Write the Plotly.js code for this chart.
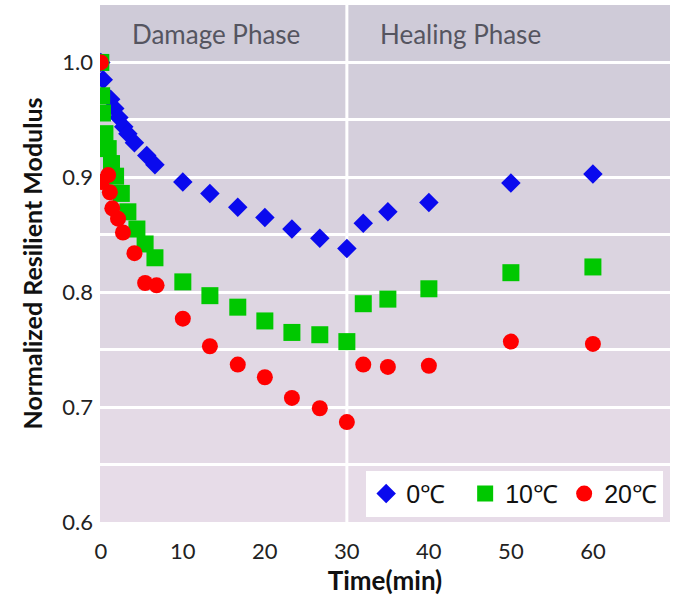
<!DOCTYPE html>
<html>
<head>
<meta charset="utf-8">
<script src="https://cdn.plot.ly/plotly-3.0.1.min.js"></script>
<style>html,body{margin:0;padding:0;background:#fff;}#chart{width:673px;height:598px;}</style>
</head>
<body>
<div id="chart"></div>
<script>
// Data
const seriesNames = ["0℃", "10℃", "20℃"];
const time0 = [0, 0.3, 1.2, 1.7, 2.2, 2.8, 3.3, 4.1, 5.6, 6.6, 10, 13.3, 16.7, 20, 23.3, 26.7, 30, 32, 35, 40, 50, 60];
const mod0 = [1.0, 0.985, 0.968, 0.960, 0.952, 0.944, 0.938, 0.930, 0.919, 0.911, 0.896, 0.886, 0.874, 0.865, 0.855, 0.847, 0.838, 0.860, 0.870, 0.878, 0.895, 0.903];
const time10 = [0, 0.1, 0.2, 0.5, 0.9, 1.3, 1.8, 2.5, 3.3, 4.4, 5.4, 6.6, 10, 13.3, 16.7, 20, 23.3, 26.7, 30, 32, 35, 40, 50, 60];
const mod10 = [1.0, 0.971, 0.956, 0.938, 0.925, 0.912, 0.901, 0.886, 0.870, 0.855, 0.842, 0.830, 0.809, 0.797, 0.787, 0.775, 0.765, 0.763, 0.757, 0.790, 0.794, 0.803, 0.817, 0.822];
const time20 = [0, 0.1, 0.9, 1.1, 1.4, 2.1, 2.7, 4.1, 5.4, 6.8, 10, 13.3, 16.7, 20, 23.3, 26.7, 30, 32, 35, 40, 50, 60];
const mod20 = [1.0, 0.896, 0.902, 0.887, 0.873, 0.864, 0.852, 0.834, 0.808, 0.806, 0.777, 0.753, 0.737, 0.726, 0.708, 0.699, 0.687, 0.737, 0.735, 0.736, 0.757, 0.755];
const phaseLabels = ["Damage Phase", "Healing Phase"];
const phaseLabelX = [14, 43.8];
const phaseBoundary = 30;
const xTicks = [0, 10, 20, 30, 40, 50, 60];

const font = "Lato, 'Open Sans', sans-serif";

// background bands between the 0.05 gridlines (top grey-lavender to bottom pinkish)
const bandColors = ["#cfcbd8","#d2cdda","#d5cfdc","#d8d1de","#dbd4e0","#ded6e2","#e1d8e4","#e4dae6","#e7dce8"];
const bandEdges = [1.05, 1.0, 0.95, 0.9, 0.85, 0.8, 0.75, 0.7, 0.65, 0.6];
const shapes = [];
for (let i = 0; i < bandColors.length; i++) {
  shapes.push({type: "rect", xref: "paper", yref: "y", x0: 0, x1: 1, y0: bandEdges[i + 1], y1: bandEdges[i],
    fillcolor: bandColors[i], line: {width: 0}, layer: "below"});
}
shapes.push({type: "line", xref: "x", yref: "paper", x0: phaseBoundary, x1: phaseBoundary, y0: 0, y1: 1,
  line: {color: "#ffffff", width: 3}, layer: "below"});

const traces = [
  {x: time0, y: mod0, name: seriesNames[0], type: "scatter", mode: "markers",
   marker: {symbol: "diamond", size: 15, color: "#0a0aee"}},
  {x: time10, y: mod10, name: seriesNames[1], type: "scatter", mode: "markers",
   marker: {symbol: "square", size: 17, color: "#00c800"}},
  {x: time20, y: mod20, name: seriesNames[2], type: "scatter", mode: "markers",
   marker: {symbol: "circle", size: 16, color: "#ff0000"}}
];

const layout = {
  width: 673, height: 598,
  margin: {l: 100, r: 3, t: 5, b: 76},
  paper_bgcolor: "#ffffff",
  plot_bgcolor: "#dcd5e0",
  showlegend: true,
  legend: {orientation: "h", x: 0.988, xanchor: "right", y: 0.01, yanchor: "bottom",
    bgcolor: "#ffffff", font: {family: "'Liberation Sans', Arial, sans-serif", size: 25, color: "#111"}, itemwidth: 30,
    entrywidth: 54, entrywidthmode: "pixels", borderwidth: 0},
  xaxis: {range: [-0.1, 69.4], tickvals: xTicks, ticktext: xTicks.map(String),
    showgrid: false, zeroline: false, showline: false, ticks: "", ticklabelstandoff: 14,
    tickfont: {family: font, size: 22, color: "#222"},
    title: {text: "Time(min)", font: {family: font, size: 26, color: "#111", weight: "bold"}, standoff: 4}},
  yaxis: {range: [0.6, 1.05], dtick: 0.1, tick0: 0.6, tickformat: ".1f",
    showgrid: true, gridcolor: "#ffffff", gridwidth: 3, zeroline: false, showline: false,
    ticks: "", ticklabelstandoff: 6,
    minor: {dtick: 0.05, tick0: 0.6, showgrid: true, gridcolor: "#ffffff", gridwidth: 3},
    tickfont: {family: font, size: 22, color: "#222"},
    title: {text: "Normalized Resilient Modulus", font: {family: font, size: 25, color: "#111", weight: "bold"}, standoff: 12}},
  shapes: shapes,
  annotations: phaseLabels.map((t, i) => ({x: phaseLabelX[i], y: 1.025, xref: "x", yref: "y", text: t,
    showarrow: false, font: {family: font, size: 26, color: "#555560"}}))
};

Plotly.newPlot("chart", traces, layout, {displayModeBar: false, staticPlot: true});
</script>
</body>
</html>
